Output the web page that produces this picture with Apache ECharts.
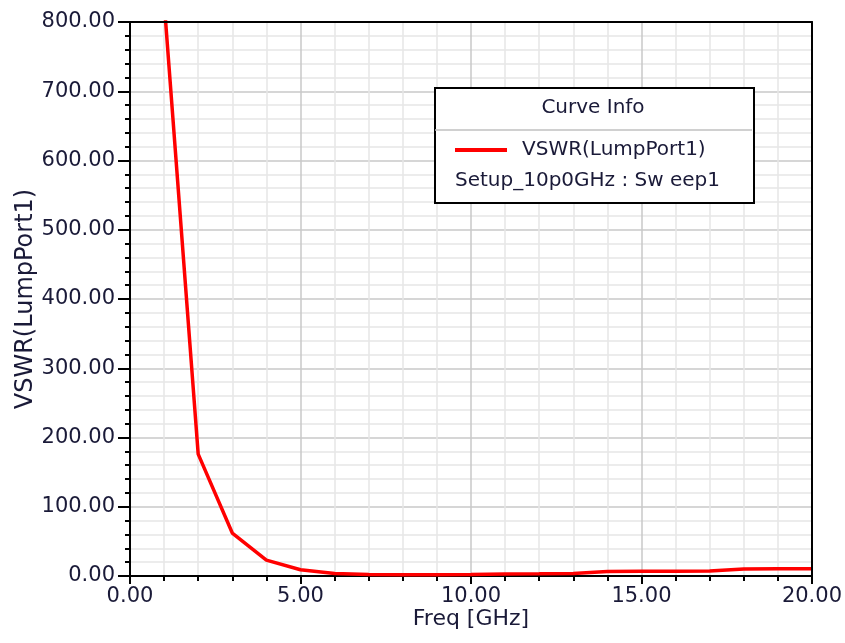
<!DOCTYPE html>
<html>
<head>
<meta charset="utf-8">
<script src="https://cdn.jsdelivr.net/npm/echarts@6/dist/echarts.min.js"></script>
<style>html,body{margin:0;padding:0;background:#fff;}#c{width:845px;height:643px;}</style>
</head>
<body>
<div id="c"></div>
<script>
const freqGHz = [1, 2, 3, 4, 5, 6, 7, 8, 9, 10, 11, 12, 13, 14, 15, 16, 17, 18, 19, 20];
const vswr = [830, 176, 62, 23, 9, 3.5, 2, 1.8, 1.8, 2, 3, 3.2, 3.5, 6.5, 6.7, 6.9, 7.2, 10, 10.3, 10.5];
const seriesName = 'VSWR(LumpPort1)';
const setupName = 'Setup_10p0GHz : Sw eep1';
const legendTitle = 'Curve Info';
const xName = 'Freq [GHz]';
const yName = 'VSWR(LumpPort1)';

const txt = '#1a1a38';
const font = 'DejaVu Sans';
const chart = echarts.init(document.getElementById('c'));
const frameAxis = {
  axisLine: {show: true, onZero: false, lineStyle: {color: '#000', width: 2}},
  axisTick: {show: false}, axisLabel: {show: false}, splitLine: {show: false}
};
chart.setOption({
  backgroundColor: '#fff',
  animation: false,
  grid: {left: 130, right: 32, top: 22, bottom: 67},
  xAxis: [{
    type: 'value', min: 0, max: 20, interval: 5,
    name: xName, nameLocation: 'middle', nameGap: 32, nameMoveOverlap: false,
    nameTextStyle: {color: txt, fontFamily: font, fontSize: 22},
    axisLine: {onZero: false, lineStyle: {color: '#000', width: 2}},
    axisTick: {length: 8, lineStyle: {color: '#000', width: 2}},
    minorTick: {show: true, splitNumber: 5, length: 5, lineStyle: {color: '#000', width: 2}},
    axisLabel: {color: txt, fontFamily: font, fontSize: 21, margin: 10, formatter: v => v.toFixed(2)},
    splitLine: {show: true, lineStyle: {color: '#c8c8c8', width: 1.5}},
    minorSplitLine: {show: true, lineStyle: {color: '#e6e6e6', width: 1.5}}
  }, Object.assign({type: 'value', min: 0, max: 20, position: 'top', z: 5}, frameAxis)],
  yAxis: [{
    type: 'value', min: 0, max: 800, interval: 100,
    name: yName, nameLocation: 'middle', nameGap: 92, nameMoveOverlap: false,
    nameTextStyle: {color: txt, fontFamily: font, fontSize: 24},
    axisLine: {onZero: false, lineStyle: {color: '#000', width: 2}},
    axisTick: {length: 12, lineStyle: {color: '#000', width: 2}},
    minorTick: {show: true, splitNumber: 5, length: 5, lineStyle: {color: '#000', width: 2}},
    axisLabel: {color: txt, fontFamily: font, fontSize: 21, margin: 15, formatter: v => v.toFixed(2)},
    splitLine: {show: true, lineStyle: {color: '#c8c8c8', width: 1.5}},
    minorSplitLine: {show: true, lineStyle: {color: '#e6e6e6', width: 1.5}}
  }, Object.assign({type: 'value', min: 0, max: 800, position: 'right', z: 5}, frameAxis)],
  legend: {
    left: 455, top: 140, padding: 0, icon: 'rect', itemWidth: 52, itemHeight: 4, z: 100,
    data: [seriesName],
    textStyle: {color: txt, fontFamily: font, fontSize: 20, padding: [0, 0, 0, 10]}
  },
  graphic: [
    {type: 'rect', left: 434, top: 87, z: 50, shape: {width: 319, height: 115}, style: {fill: '#fff', stroke: '#000', lineWidth: 2}},
    {type: 'line', z: 51, shape: {x1: 435, y1: 130, x2: 752, y2: 130}, style: {stroke: '#c0c0c0', lineWidth: 1.5}},
    {type: 'text', z: 51, x: 593, y: 108, style: {text: legendTitle, fill: txt, font: '20px "DejaVu Sans"', align: 'center', verticalAlign: 'middle'}},
    {type: 'text', z: 51, x: 455, y: 181, style: {text: setupName, fill: txt, font: '20px "DejaVu Sans"', align: 'left', verticalAlign: 'middle'}}
  ],
  series: [{
    name: seriesName, type: 'line', data: freqGHz.map((f, i) => [f, vswr[i]]),
    xAxisIndex: 0, yAxisIndex: 0,
    showSymbol: false, clip: true,
    lineStyle: {color: '#ff0000', width: 3.5}, itemStyle: {color: '#ff0000'}
  }]
});
</script>
</body>
</html>
